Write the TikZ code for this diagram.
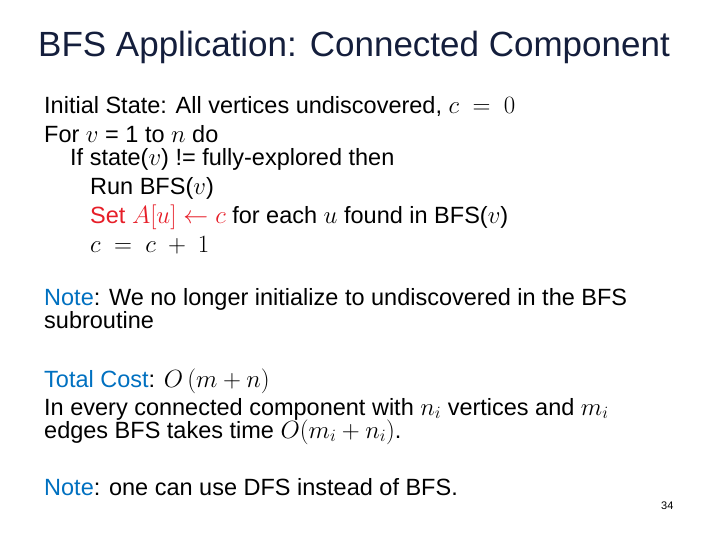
\documentclass[tikz,border=0pt]{standalone}
\usepackage{fontspec}
\setmainfont{Liberation Sans}
\definecolor{nb}{RGB}{0,112,192}
\definecolor{tt}{RGB}{20,30,60}
\definecolor{rd}{RGB}{230,30,40}
\begin{document}
\begin{tikzpicture}[x=1pt,y=-1pt,
  ln/.style={anchor=base west,inner sep=0pt,font=\fontsize{23.5}{28}\selectfont}]
\useasboundingbox (0,0) rectangle (720,540);
\node[anchor=base west,inner sep=0pt,text=tt,font=\fontsize{35}{40}\selectfont] (title) at (38,57) {BFS Application: Connected Component};
\node[ln] (l1) at (44,114) {Initial State: All vertices undiscovered, $c\ =\ 0$};
\node[ln] (l2) at (44,143) {For $v$ = 1 to $n$ do};
\node[ln] (l3) at (70,166) {If state($v$) != fully-explored then};
\node[ln] (l4) at (90,195) {Run BFS($v$)};
\node[ln] (l5) at (90,224) {\textcolor{rd}{Set $A[u]\leftarrow c$} for each $u$ found in BFS($v$)};
\node[ln] (l6) at (90,252) {$c\ =\ c\ +\ 1$};
\node[ln] (n1) at (44,305) {\textcolor{nb}{Note}: We no longer initialize to undiscovered in the BFS};
\node[ln] (n2) at (44,328) {subroutine};
\node[ln] (t1) at (44,387) {\textcolor{nb}{Total Cost}: $O\,(m+n)$};
\node[ln] (t2) at (44,415) {In every connected component with $n_i$ vertices and $m_i$};
\node[ln] (t3) at (44,438) {edges BFS takes time $O(m_i+n_i)$.};
\node[ln] (n3) at (44,495) {\textcolor{nb}{Note}: one can use DFS instead of BFS.};
\node[anchor=base west,inner sep=0pt,font=\fontsize{11}{13}\selectfont] (pg) at (661,509) {34};
\end{tikzpicture}
\end{document}
